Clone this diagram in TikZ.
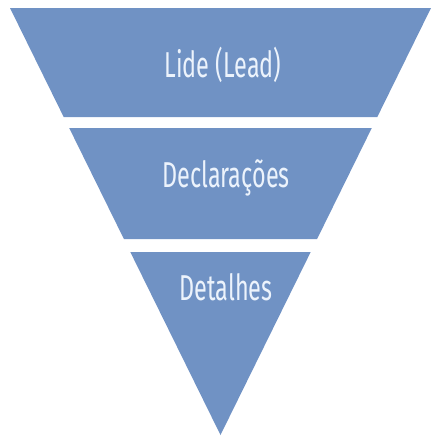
\documentclass[tikz,border=0pt]{standalone}
\usepackage{fontspec}
\setmainfont[FakeStretch=0.65]{Fira Sans}
\definecolor{bandblue}{RGB}{112,146,196}
\definecolor{txtwhite}{RGB}{236,243,252}
\begin{document}
\begin{tikzpicture}[x=1pt,y=-1pt,
  bandshape/.style={fill=bandblue,draw=none},
  bandlabel/.style={text=txtwhite,font=\fontsize{36}{40}\selectfont,inner sep=0pt,anchor=base}]
\useasboundingbox (0,0) rectangle (436,437);
\fill[bandshape] (10,8) -- (431,8) -- (377.3,117) -- (63.7,117) -- cycle;
\fill[bandshape] (69.2,128) -- (371.8,128) -- (317.1,239) -- (123.9,239) -- cycle;
\fill[bandshape] (130.3,252) -- (310.7,252) -- (220.5,435) -- cycle;
\node[bandlabel] (lide) at (223,77) {Lide (Lead)};
\node[bandlabel] (decl) at (226,187) {Declarações};
\node[bandlabel] (detal) at (226,300) {Detalhes};
\end{tikzpicture}
\end{document}
